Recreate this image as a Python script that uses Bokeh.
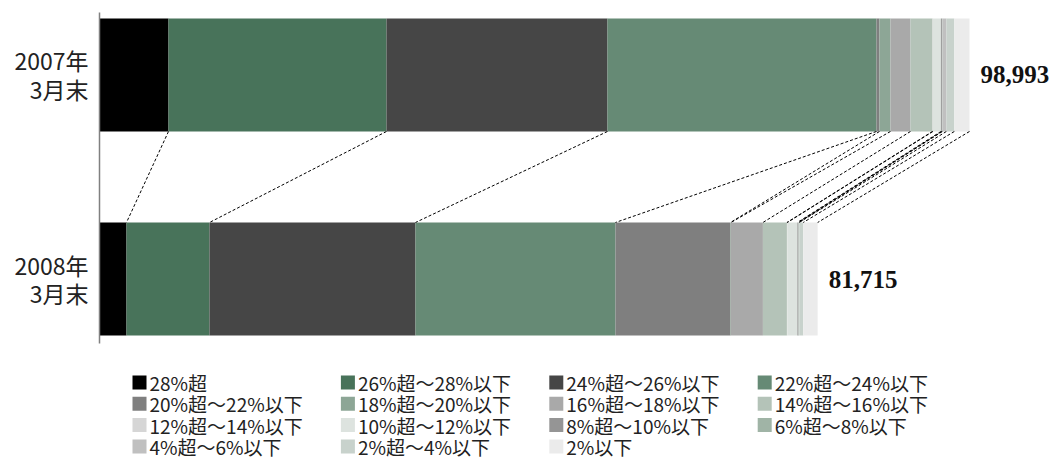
import numpy as np
from bokeh.plotting import figure
from bokeh.models import Range1d, LinearAxis, FixedTicker, ColumnDataSource
from bokeh.layouts import column
from bokeh.embed import file_html
from bokeh.resources import INLINE
from bokeh.core.properties import value

# ---------------- data ----------------
categories = ["2007年\n3月末", "2008年\n3月末"]
bands = ["28%超", "26%超～28%以下", "24%超～26%以下", "22%超～24%以下",
         "20%超～22%以下", "18%超～20%以下", "16%超～18%以下", "14%超～16%以下",
         "12%超～14%以下", "10%超～12%以下", "8%超～10%以下", "6%超～8%以下",
         "4%超～6%以下", "2%超～4%以下", "2%以下"]
colors = ["#000000", "#48735a", "#464646", "#668a75",
          "#7f7f7f", "#8da696", "#a9a9a9", "#b4c3b8",
          "#d6d6d6", "#dde3df", "#959595", "#a0b4a6",
          "#c0c0c0", "#c8d2cc", "#ebebeb"]
values_2007 = [7851, 24804, 25146, 30607, 341, 1252, 2276, 2503,
               50, 910, 114, 50, 455, 910, 1724]
values_2008 = [3072, 9444, 23439, 22756, 13085, 50, 3641, 2731,
               50, 1138, 114, 50, 50, 455, 1640]
series = [values_2007, values_2008]

# ---------------- layout constants ----------------
W, H = 1052, 461
MAIN_H = 363
LEFT = 99
FONT_JP = "Noto Sans CJK JP"
BAR_H = 0.554
y_pos = [1.5, 0.5]  # category positions (top, bottom)

totals = [sum(v) for v in series]
k = 870.0 / totals[0]  # px per unit
xmax = (W - LEFT) / k

p = figure(width=W, height=MAIN_H,
           x_range=Range1d(0, xmax), y_range=Range1d(0.184, 1.806),
           output_backend="svg", toolbar_location=None,
           x_axis_location=None, y_axis_location=None,
           min_border_left=LEFT, min_border_right=0,
           min_border_top=12, min_border_bottom=20)
p.outline_line_color = None
p.grid.visible = False

# stacked bars
ys, lefts, rights, cols = [], [], [], []
for yi, vals in zip(y_pos, series):
    cum = np.cumsum([0] + vals)
    for j in range(len(vals)):
        ys.append(yi)
        lefts.append(cum[j])
        rights.append(cum[j + 1])
        cols.append(colors[j])
src = ColumnDataSource(dict(y=ys, left=lefts, right=rights, color=cols))
p.hbar(y="y", left="left", right="right", height=BAR_H,
       fill_color="color", line_color=None, source=src)

# dashed connectors between boundaries
c07 = np.cumsum(values_2007)
c08 = np.cumsum(values_2008)
p.segment(x0=list(c07), y0=[y_pos[0] - BAR_H / 2] * len(c07),
          x1=list(c08), y1=[y_pos[1] + BAR_H / 2] * len(c08),
          line_color="#000000", line_width=1, line_dash="3 2")

# totals
p.text(x=totals, y=y_pos, text=[f"{t:,}" for t in totals],
       text_font=value("Liberation Serif"), text_font_style="bold",
       text_font_size="25px", text_baseline="middle", text_align="left",
       x_offset=11, text_color="#111111")

# left axis with category labels
yaxis = LinearAxis(ticker=FixedTicker(ticks=y_pos),
                   major_label_overrides={y_pos[0]: categories[0],
                                          y_pos[1]: categories[1]})
yaxis.major_tick_line_color = None
yaxis.minor_tick_line_color = None
yaxis.axis_line_color = "#808080"
yaxis.axis_line_width = 1.5
yaxis.major_label_standoff = 5
yaxis.major_label_text_font = FONT_JP
yaxis.major_label_text_font_size = "23px"
yaxis.major_label_text_line_height = 0.85
yaxis.major_label_text_color = "#222222"
p.add_layout(yaxis, "left")

# ---------------- legend ----------------
lg = figure(width=W, height=H - MAIN_H,
            x_range=Range1d(LEFT, W), y_range=Range1d(H, MAIN_H),
            output_backend="svg", toolbar_location=None,
            x_axis_location=None, y_axis_location=None,
            min_border_left=LEFT, min_border_right=0,
            min_border_top=0, min_border_bottom=0)
lg.outline_line_color = None
lg.grid.visible = False
lx = [132 + (i % 4) * 208.4 for i in range(len(bands))]
ly = [382 + (i // 4) * 21.3 for i in range(len(bands))]
lg.rect(x=[x + 7 for x in lx], y=ly, width=14, height=14,
        fill_color=colors, line_color=None)
lg.text(x=[x + 17 for x in lx], y=ly, text=bands,
        text_font=value(FONT_JP), text_font_size="19px",
        text_baseline="middle", text_align="left", text_color="#222222")

layout = column(p, lg)
open("out.html", "w").write(file_html(layout, INLINE))
